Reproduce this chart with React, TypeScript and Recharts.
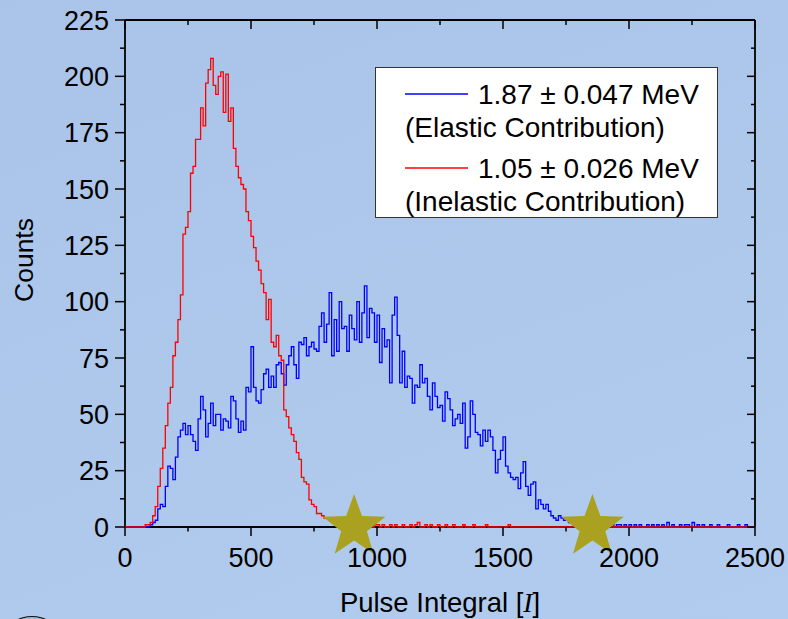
import React from 'react';
import { ComposedChart, Line, Scatter, XAxis, YAxis, Legend } from 'recharts';

const BIN_WIDTH = 10;

const RED_COUNTS = [
  0, 0, 0, 0, 0, 0, 0, 0, 1, 1,
  2, 5, 9, 18, 26, 35, 45, 55, 62, 76,
  82, 92, 103, 130, 133, 140, 157, 160, 172, 172,
  186, 178, 197, 203, 208, 196, 192, 200, 202, 184,
  201, 180, 186, 168, 160, 155, 152, 150, 140, 136,
  129, 124, 118, 114, 108, 104, 92, 101, 82, 80,
  85, 76, 74, 52, 49, 44, 41, 38, 33, 30,
  22, 20, 19, 12, 10, 9, 6, 6, 5, 4,
  4, 3, 3, 2, 2, 2, 1, 2, 1, 1,
  1, 0, 1, 1, 0, 1, 0, 1, 0, 1,
  1, 0, 1, 0, 0, 1, 0, 1, 0, 0,
  1, 0, 0, 1, 0, 1, 2, 0, 0, 1,
  0, 1, 0, 0, 1, 0, 0, 1, 0, 0,
  1, 0, 0, 0, 1, 0, 0, 0, 1, 0,
  0, 0, 0, 1, 0, 0, 0, 0, 0, 0,
  0, 0, 1, 0, 0, 0, 0, 0, 0, 0,
  0, 0, 0, 0, 0, 0, 0, 0, 0, 0,
  0, 0, 0, 0, 0, 0, 0, 0, 0, 0,
  0, 0, 0, 0, 0, 0, 0, 0, 0, 0,
  0, 0, 0, 0, 0, 0, 0, 0, 0, 0,
  0, 0, 0, 0, 0, 0, 0, 0, 0, 0,
  0, 0, 0, 0, 0, 0, 0, 0, 0, 0,
  0, 0, 0, 0, 0, 0, 0, 0, 0, 0,
  0, 0, 0, 0, 0, 0, 0, 0, 0, 0,
  0, 0, 0, 0, 0, 0, 0, 0, 0, 0,
];

const BLUE_COUNTS = [
  0, 0, 0, 0, 0, 0, 0, 0, 0, 0,
  1, 2, 3, 8, 10, 9, 18, 27, 26, 21,
  31, 40, 43, 46, 41, 45, 41, 38, 34, 48,
  58, 52, 40, 46, 55, 45, 50, 50, 43, 48,
  47, 44, 58, 56, 48, 42, 47, 43, 62, 60,
  80, 62, 56, 55, 61, 68, 70, 62, 67, 62,
  72, 73, 68, 63, 72, 76, 80, 72, 66, 82,
  81, 84, 76, 80, 82, 79, 78, 89, 95, 82,
  90, 104, 76, 92, 78, 100, 88, 89, 78, 94,
  88, 83, 100, 82, 95, 107, 84, 97, 95, 82,
  94, 73, 88, 80, 83, 64, 94, 102, 85, 64,
  78, 62, 67, 66, 55, 63, 62, 72, 64, 66,
  58, 52, 64, 58, 53, 54, 47, 60, 57, 52,
  45, 48, 50, 46, 55, 35, 40, 56, 50, 42,
  41, 36, 43, 38, 43, 40, 34, 24, 30, 34,
  40, 27, 24, 22, 21, 22, 17, 24, 29, 18,
  14, 19, 20, 8, 12, 10, 8, 10, 7, 5,
  4, 3, 5, 4, 3, 4, 2, 3, 4, 2,
  2, 1, 2, 1, 2, 1, 1, 2, 1, 0,
  1, 2, 1, 3, 0, 1, 1, 0, 1, 0,
  1, 0, 1, 0, 1, 0, 0, 1, 0, 1,
  0, 1, 0, 1, 0, 2, 0, 1, 0, 0,
  1, 0, 1, 1, 0, 2, 0, 1, 0, 1,
  0, 0, 1, 0, 0, 1, 0, 0, 0, 1,
  0, 0, 0, 1, 0, 0, 1, 0, 0, 0,
];

const STAR_POINTS = [
  { x: 909, y: 0 },
  { x: 1855, y: 0 },
];

const X_TICKS = [0, 250, 500, 750, 1000, 1250, 1500, 1750, 2000, 2250, 2500];
const Y_TICKS = [
  0, 12.5, 25, 37.5, 50, 62.5, 75, 87.5, 100, 112.5, 125, 137.5, 150,
  162.5, 175, 187.5, 200, 212.5, 225,
];
const X_DOMAIN = [0, 2500];
const Y_DOMAIN = [0, 225];

const LEGEND_ITEMS = [
  { key: 'blue', value: '1.87 \u00b1 0.047 MeV', note: '(Elastic Contribution)', color: '#0000ff' },
  { key: 'red', value: '1.05 \u00b1 0.026 MeV', note: '(Inelastic Contribution)', color: '#ff0000' },
];

const TABLE = RED_COUNTS.map((r, i) => ({ x: i * BIN_WIDTH, red: r, blue: BLUE_COUNTS[i] }));
TABLE.push({
  x: RED_COUNTS.length * BIN_WIDTH,
  red: RED_COUNTS[RED_COUNTS.length - 1],
  blue: BLUE_COUNTS[BLUE_COUNTS.length - 1],
});

const FONT = '"Liberation Sans", Arial, Helvetica, sans-serif';

const LeftTick = (props: any) => {
  const { x, y, payload } = props;
  const v = payload.value;
  const major = v % 25 === 0;
  return (
    <g>
      <line x1={x} x2={x - (major ? 10 : 5)} y1={y} y2={y} stroke="#000" strokeWidth={1.5} />
      {major && (
        <text x={x - 16} y={y + 9.5} textAnchor="end" fontSize={27} fontFamily={FONT} fill="#000">
          {v}
        </text>
      )}
    </g>
  );
};

const RightTick = (props: any) => {
  const { x, y, payload } = props;
  const major = payload.value % 25 === 0;
  return <line x1={x} x2={x - (major ? 8 : 4)} y1={y} y2={y} stroke="#000" strokeWidth={1.5} />;
};

const BottomTick = (props: any) => {
  const { x, y, payload } = props;
  const v = payload.value;
  const major = v % 500 === 0;
  return (
    <g>
      <line x1={x} x2={x} y1={y} y2={y + (major ? 9 : 4.5)} stroke="#000" strokeWidth={1.5} />
      {major && (
        <text x={x} y={y + 40} textAnchor="middle" fontSize={27} fontFamily={FONT} fill="#000">
          {v}
        </text>
      )}
    </g>
  );
};

const TopTick = (props: any) => {
  const { x, y, payload } = props;
  const major = payload.value % 500 === 0;
  return <line x1={x} x2={x} y1={y} y2={y + (major ? 9 : 5)} stroke="#000" strokeWidth={1.5} />;
};

const XTitle = () => (
  <text x={440} y={612} textAnchor="middle" fontSize={27.5} fontFamily={FONT} fill="#000">
    Pulse Integral [
    <tspan fontStyle="italic" fontFamily='"Liberation Serif", "Times New Roman", serif'>I</tspan>]
  </text>
);

const YTitle = () => (
  <text
    x={33}
    y={260}
    transform="rotate(-90 33 260)"
    textAnchor="middle"
    fontSize={26.5}
    fontFamily={FONT}
    fill="#000"
  >
    Counts
  </text>
);

const Star = (props: any) => {
  const { cx, cy } = props;
  if (cx == null || cy == null) return null;
  const R = 33;
  const r = 13.5;
  const pts: string[] = [];
  for (let k = 0; k < 10; k++) {
    const a = ((-90 + k * 36) * Math.PI) / 180;
    const rad = k % 2 === 0 ? R : r;
    pts.push(`${cx + rad * Math.cos(a)},${cy + rad * Math.sin(a)}`);
  }
  return <polygon points={pts.join(' ')} fill="#a9a11f" stroke="none" />;
};

const LegendBox = () => (
  <div
    style={{
      width: 343,
      height: 151,
      boxSizing: 'border-box',
      background: '#fff',
      border: '1.5px solid #333',
    }}
  >
    <svg width={340} height={148} style={{ display: 'block', overflow: 'visible' }}>
      {LEGEND_ITEMS.map((item, i) => {
        const base = i * 74;
        return (
          <g key={item.key}>
            <line x1={29} x2={92} y1={26 + base} y2={26 + base} stroke={item.color} strokeWidth={1.3} />
            <text x={102} y={36 + base} fontSize={28} fontFamily={FONT} fill="#000">
              {item.value}
            </text>
            <text x={29} y={69 + base} fontSize={28} fontFamily={FONT} fill="#000">
              {item.note}
            </text>
          </g>
        );
      })}
    </svg>
  </div>
);

export default function App() {
  return (
    <div
      style={{
        position: 'absolute',
        left: 0,
        top: 0,
        width: 788,
        height: 619,
        overflow: 'hidden',
        background: 'linear-gradient(160deg, #a9c4e8 0%, #adc8eb 50%, #b1ccee 100%)',
      }}
    >
      <ComposedChart
        width={788}
        height={619}
        data={TABLE}
        margin={{ top: 19, right: 32, bottom: 0, left: 0 }}
      >
        <XAxis
          xAxisId="x"
          dataKey="x"
          type="number"
          domain={X_DOMAIN}
          ticks={X_TICKS}
          interval={0}
          height={92}
          tickSize={0}
          tickMargin={0}
          tick={<BottomTick />}
          axisLine={{ stroke: '#000', strokeWidth: 1.8 }}
          label={<XTitle />}
        />
        <XAxis
          xAxisId="top"
          dataKey="x"
          orientation="top"
          type="number"
          domain={X_DOMAIN}
          ticks={X_TICKS}
          interval={0}
          height={1}
          tickSize={0}
          tickMargin={0}
          tick={<TopTick />}
          axisLine={{ stroke: '#000', strokeWidth: 1.8 }}
        />
        <YAxis
          yAxisId="y"
          type="number"
          domain={Y_DOMAIN}
          ticks={Y_TICKS}
          interval={0}
          width={125}
          tickSize={0}
          tickMargin={0}
          tick={<LeftTick />}
          axisLine={{ stroke: '#000', strokeWidth: 1.8 }}
          label={<YTitle />}
        />
        <YAxis
          yAxisId="right"
          orientation="right"
          type="number"
          domain={Y_DOMAIN}
          ticks={Y_TICKS}
          interval={0}
          width={1}
          tickSize={0}
          tickMargin={0}
          tick={<RightTick />}
          axisLine={{ stroke: '#000', strokeWidth: 1.8 }}
        />
        <Line
          xAxisId="top"
          yAxisId="right"
          type="stepAfter"
          dataKey="blue"
          stroke="none"
          strokeWidth={0}
          dot={false}
          activeDot={false}
          legendType="none"
          isAnimationActive={false}
        />
        <Line
          xAxisId="x"
          yAxisId="y"
          type="stepAfter"
          dataKey="blue"
          stroke="#0000ff"
          strokeWidth={1.3}
          dot={false}
          activeDot={false}
          zIndex={550}
          isAnimationActive={false}
        />
        <Line
          xAxisId="x"
          yAxisId="y"
          type="stepAfter"
          dataKey="red"
          stroke="#ff0000"
          strokeWidth={1.3}
          dot={false}
          activeDot={false}
          zIndex={560}
          isAnimationActive={false}
        />
        <Scatter
          xAxisId="x"
          yAxisId="y"
          data={STAR_POINTS}
          dataKey="y"
          shape={<Star />}
          zIndex={600}
          isAnimationActive={false}
        />
        <Legend
          layout="vertical"
          align="center"
          verticalAlign="middle"
          content={<LegendBox />}
          wrapperStyle={{ position: 'absolute', left: 375, top: 67, width: 343, height: 151, right: 'auto', bottom: 'auto' }}
        />
      </ComposedChart>
      <div
        style={{
          position: 'absolute',
          left: 8,
          top: 616,
          width: 46,
          height: 30,
          borderRadius: '50%',
          border: '1.5px solid #111',
          background: '#9fb8d8',
        }}
      />
    </div>
  );
}
